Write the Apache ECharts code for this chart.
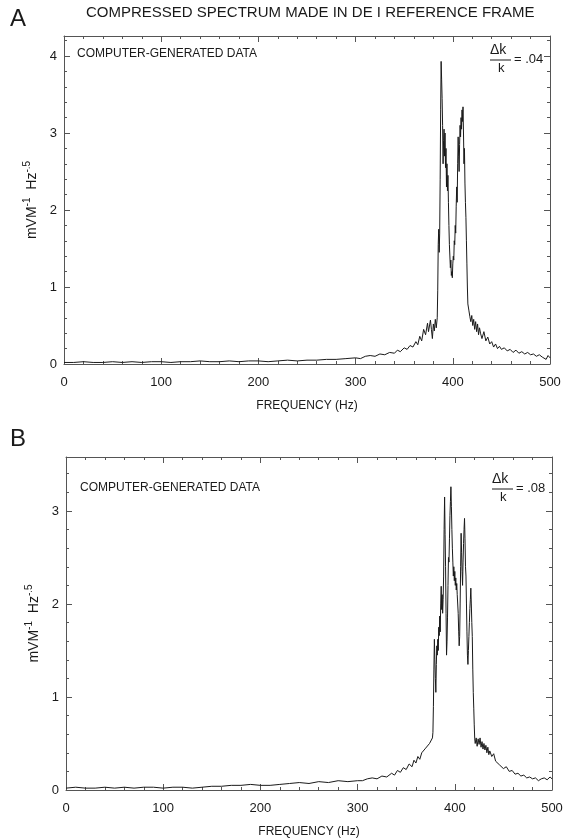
<!DOCTYPE html>
<html>
<head>
<meta charset="utf-8">
<script src="https://cdn.jsdelivr.net/npm/echarts@6/dist/echarts.min.js"></script>
<style>
  html, body { margin: 0; padding: 0; background: #fff; }
  #chart { width: 575px; height: 839px; }
</style>
</head>
<body>
<div id="chart"></div>
<script>
// Panel A, dk/k = .04 (frequency in Hz, amplitude in mV m^-1 Hz^-.5)
const freqA = [
  0, 10, 20, 30, 40, 50, 60, 70, 80, 90, 100, 110, 120, 130, 140, 150, 160, 170, 180, 190,
  200, 210, 220, 230, 240, 250, 260, 270, 280, 290, 300, 305, 310, 315, 320, 325, 330, 335,
  340, 343, 346, 350, 353, 356, 359, 362, 364, 366, 368, 370, 372, 374, 375, 377, 378, 379,
  380, 381, 382, 383, 384, 384.5, 385, 385.5, 386, 386.5, 387, 387.5, 388, 388.5, 389, 389.5,
  390, 390.5, 391, 391.5, 392, 392.5, 393, 393.5, 394, 394.5, 395, 395.5, 396, 396.5, 397.5,
  398, 398.5, 399, 399.5, 400, 400.5, 401, 401.5, 402, 402.5, 403, 403.5, 404, 404.5, 405,
  405.5, 406, 406.5, 407, 407.5, 408, 408.5, 409, 409.5, 410, 410.5, 411, 411.5, 412, 412.5,
  413, 413.5, 414, 414.5, 415, 415.5, 416.5, 417.5, 418.5, 419.5, 420.5, 421.5, 422.5, 423.5,
  424.5, 425.5, 426.5, 427.5, 428.5, 430, 432, 434, 436, 438, 440, 442, 444, 446, 448, 450,
  453, 456, 459, 462, 465, 468, 471, 474, 477, 480, 483, 486, 489, 492, 494, 496, 498, 500
];
const valsA = [
  0.02, 0.02, 0.03, 0.02, 0.02, 0.03, 0.02, 0.03, 0.02, 0.03, 0.03, 0.02, 0.03, 0.03, 0.04, 0.03, 0.03, 0.04, 0.03, 0.04,
  0.04, 0.03, 0.04, 0.05, 0.04, 0.05, 0.05, 0.06, 0.06, 0.07, 0.08, 0.07, 0.10, 0.11, 0.10, 0.13, 0.12, 0.15,
  0.14, 0.18, 0.16, 0.21, 0.19, 0.24, 0.22, 0.29, 0.25, 0.36, 0.30, 0.45, 0.38, 0.53, 0.42, 0.57, 0.45, 0.33,
  0.52, 0.43, 0.58, 0.47, 0.60, 0.95, 1.55, 1.75, 1.45, 1.70, 2.40, 3.30, 3.93, 3.70, 3.45, 3.10,
  2.60, 2.90, 3.05, 2.70, 3.00, 2.55, 2.80, 2.30, 2.60, 2.25, 2.45, 2.10, 1.80, 1.55, 1.25,
  1.35, 1.15, 1.20, 1.12, 1.30, 1.40, 1.35, 1.60, 1.55, 1.80, 1.70, 2.05, 2.30, 2.10, 2.60,
  2.95, 2.70, 2.50, 2.85, 3.10, 2.95, 3.20, 3.05, 3.30, 3.15, 3.34, 3.00, 2.60, 2.80, 2.35,
  2.10, 1.90, 1.60, 1.30, 1.00, 0.78, 0.70, 0.62, 0.55, 0.63, 0.50, 0.58, 0.45, 0.55,
  0.42, 0.52, 0.38, 0.47, 0.40, 0.33, 0.42, 0.30, 0.35, 0.26, 0.29, 0.22, 0.26, 0.20, 0.23, 0.19,
  0.21, 0.17, 0.19, 0.15, 0.18, 0.14, 0.16, 0.13, 0.15, 0.12, 0.13, 0.10, 0.12, 0.09, 0.10, 0.06, 0.11, 0.08
];

// Panel B, dk/k = .08
const freqB = [
  0, 10, 20, 30, 40, 50, 60, 70, 80, 90, 100, 110, 120, 130, 140, 150, 160, 170, 180, 190,
  200, 210, 220, 230, 240, 250, 260, 270, 280, 290, 300, 305, 310, 315, 320, 325, 330, 335,
  338, 341, 344, 347, 350, 353, 356, 358, 360, 362, 364, 366, 368, 370, 372, 374, 376, 377,
  377.5, 378, 378.5, 379, 379.5, 380, 380.5, 381, 381.5, 382, 382.5, 383, 383.5, 384, 384.5,
  385, 385.5, 386, 386.5, 387, 387.5, 388, 388.5, 389, 389.5, 390, 390.5, 391, 391.5, 392,
  392.5, 393, 393.5, 394, 394.5, 395, 395.5, 396, 396.5, 397, 397.5, 398, 398.5, 399, 399.5,
  400, 400.5, 401, 401.5, 402, 402.5, 403, 403.5, 404, 404.5, 405, 405.5, 406, 406.5, 407,
  407.5, 408, 408.5, 409, 409.5, 410, 410.5, 411, 411.5, 412, 412.5, 413, 413.5, 414, 414.5,
  415, 415.5, 416, 416.5, 417, 417.5, 418, 418.5, 419, 419.5, 420, 420.5, 421, 422, 423, 424,
  425, 426, 427, 428, 429, 430, 431, 432, 433, 434, 435, 436, 438, 440, 442, 444, 446, 448,
  450, 453, 456, 459, 462, 465, 468, 471, 474, 477, 480, 483, 486, 489, 492, 495, 498, 500
];
const valsB = [
  0.02, 0.03, 0.02, 0.02, 0.03, 0.02, 0.03, 0.02, 0.03, 0.03, 0.02, 0.03, 0.03, 0.02, 0.03, 0.04, 0.04, 0.05, 0.05, 0.06,
  0.05, 0.05, 0.06, 0.07, 0.08, 0.07, 0.09, 0.08, 0.10, 0.09, 0.10, 0.10, 0.12, 0.13, 0.12, 0.15, 0.14, 0.18,
  0.16, 0.21, 0.19, 0.24, 0.22, 0.28, 0.25, 0.32, 0.29, 0.36, 0.33, 0.40, 0.38, 0.45, 0.43, 0.50, 0.52, 0.56,
  0.62, 0.90, 1.30, 1.62, 1.40, 1.20, 1.05, 1.35, 1.55, 1.45, 1.62, 1.50, 1.75, 1.66, 1.87,
  1.70, 2.00, 2.19, 1.94, 2.10, 1.90, 2.05, 2.30, 2.80, 3.15, 2.75, 2.40, 1.90, 1.45, 1.60,
  1.85, 2.20, 2.50, 2.45, 2.70, 2.95, 3.10, 3.26, 3.05, 2.80, 2.60, 2.45, 2.30, 2.40, 2.25,
  2.35, 2.20, 2.28, 2.15, 2.22, 2.10, 2.08, 1.90, 1.70, 1.55, 1.65, 2.00, 2.40, 2.76, 2.55,
  2.35, 2.20, 2.45, 2.65, 2.80, 2.92, 2.70, 2.40, 2.30, 2.00, 1.70, 1.45, 1.35, 1.50, 1.65,
  1.80, 1.95, 2.05, 2.17, 2.00, 1.80, 1.65, 1.30, 1.05, 0.88, 0.70, 0.55, 0.50, 0.56, 0.47, 0.55,
  0.49, 0.56, 0.46, 0.52, 0.44, 0.50, 0.43, 0.48, 0.40, 0.46, 0.38, 0.42, 0.36, 0.39, 0.31, 0.33, 0.27, 0.29,
  0.23, 0.25, 0.20, 0.21, 0.17, 0.18, 0.15, 0.16, 0.13, 0.14, 0.12, 0.13, 0.10, 0.12, 0.13, 0.11, 0.14, 0.12
];

const xTicks = [0, 100, 200, 300, 400, 500];
const yMaxA = 4.26;
const yMaxB = 3.58;

const FONT = 'Liberation Sans, Arial, sans-serif';
const INK = '#1a1a1a';
const FRAME = '#555';

const pairs = (xs, ys) => xs.map((x, i) => [x, ys[i]]);

const chart = echarts.init(document.getElementById('chart'), null, { renderer: 'canvas' });

// main x axis (labels/frame), or a tick-only axis when minor = true
function xAxisFor(grid, pos, withLabels, minor) {
  return {
    type: 'value', gridIndex: grid, position: pos,
    min: xTicks[0], max: xTicks[xTicks.length - 1], interval: minor ? 20 : 100,
    name: withLabels ? 'FREQUENCY (Hz)' : '',
    nameLocation: 'middle', nameGap: 36,
    nameTextStyle: { fontFamily: FONT, fontSize: 12, color: INK },
    axisLine: { show: !minor, onZero: false, lineStyle: { color: FRAME, width: 1 } },
    axisTick: { show: true, inside: true, length: minor ? 3 : 6, lineStyle: { color: FRAME } },
    axisLabel: { show: withLabels, fontFamily: FONT, fontSize: 13, color: INK, margin: 12 },
    splitLine: { show: false }
  };
}

function yAxisFor(grid, pos, max, withLabels, minor) {
  return {
    type: 'value', gridIndex: grid, position: pos,
    min: 0, max: max, interval: minor ? 0.2 : 1,
    name: withLabels ? 'mVM{s|-1}  Hz{s|-.5}' : '',
    nameLocation: 'middle', nameGap: 22,
    nameTextStyle: {
      fontFamily: FONT, fontSize: 14, color: INK,
      rich: { s: { fontFamily: FONT, fontSize: 10, color: INK, padding: [0, 0, 10, 0] } }
    },
    axisLine: { show: !minor, onZero: false, lineStyle: { color: FRAME, width: 1 } },
    axisTick: { show: true, inside: true, length: minor ? 3 : 6, lineStyle: { color: FRAME } },
    axisLabel: {
      show: withLabels, fontFamily: FONT, fontSize: 13, color: INK, margin: 7,
      showMaxLabel: false,
      formatter: v => (Number.isInteger(v) ? String(v) : '')
    },
    splitLine: { show: false }
  };
}

// the "Δk over k = value" note in the upper right corner
function fraction(cx, cy, value) {
  return [
    { type: 'text', left: cx - 11, top: cy - 17, style: { text: 'Δk', font: '14px ' + FONT, fill: INK } },
    { type: 'line', shape: { x1: cx - 11, y1: cy, x2: cx + 10, y2: cy }, style: { stroke: INK, lineWidth: 1 } },
    { type: 'text', left: cx - 3, top: cy + 2, style: { text: 'k', font: '13px ' + FONT, fill: INK } },
    { type: 'text', left: cx + 13, top: cy - 7, style: { text: '= ' + value, font: '13px ' + FONT, fill: INK } }
  ];
}

const option = {
  backgroundColor: '#fff',
  animation: false,
  grid: [
    { left: 64, right: 25, top: 36, bottom: 475 },
    { left: 66, right: 23, top: 457, bottom: 47 }
  ],
  xAxis: [
    xAxisFor(0, 'bottom', true, false), xAxisFor(0, 'top', false, false),
    xAxisFor(1, 'bottom', true, false), xAxisFor(1, 'top', false, false),
    xAxisFor(0, 'bottom', false, true), xAxisFor(0, 'top', false, true),
    xAxisFor(1, 'bottom', false, true), xAxisFor(1, 'top', false, true)
  ],
  yAxis: [
    yAxisFor(0, 'left', yMaxA, true, false), yAxisFor(0, 'right', yMaxA, false, false),
    yAxisFor(1, 'left', yMaxB, true, false), yAxisFor(1, 'right', yMaxB, false, false),
    yAxisFor(0, 'left', yMaxA, false, true), yAxisFor(0, 'right', yMaxA, false, true),
    yAxisFor(1, 'left', yMaxB, false, true), yAxisFor(1, 'right', yMaxB, false, true)
  ],
  series: [
    {
      type: 'line', xAxisIndex: 0, yAxisIndex: 0, data: pairs(freqA, valsA),
      showSymbol: false, lineStyle: { color: INK, width: 1 }, silent: true
    },
    {
      type: 'line', xAxisIndex: 2, yAxisIndex: 2, data: pairs(freqB, valsB),
      showSymbol: false, lineStyle: { color: INK, width: 1 }, silent: true
    }
  ],
  graphic: [
    { type: 'text', left: 10, top: 7, style: { text: 'A', font: '24px ' + FONT, fill: INK } },
    { type: 'text', left: 86, top: 5, style: { text: 'COMPRESSED SPECTRUM MADE IN DE I REFERENCE FRAME', font: '15px ' + FONT, fill: INK } },
    { type: 'text', left: 77, top: 48, style: { text: 'COMPUTER-GENERATED DATA', font: '12px ' + FONT, fill: INK } },
    ...fraction(501, 60, '.04'),
    { type: 'text', left: 10, top: 427, style: { text: 'B', font: '24px ' + FONT, fill: INK } },
    { type: 'text', left: 80, top: 482, style: { text: 'COMPUTER-GENERATED DATA', font: '12px ' + FONT, fill: INK } },
    ...fraction(503, 489, '.08')
  ]
};

chart.setOption(option);
</script>
</body>
</html>
